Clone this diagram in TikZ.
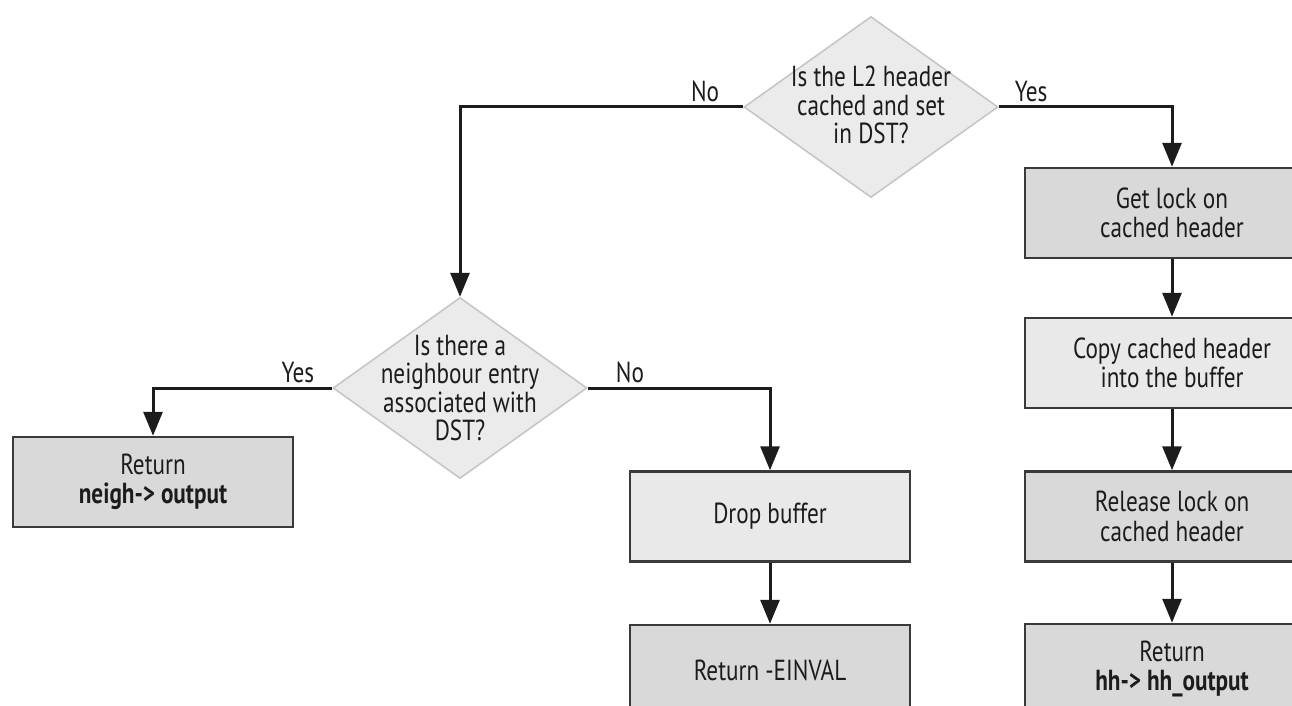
\documentclass[tikz,border=0pt]{standalone}
\usepackage{fontspec}
\setmainfont{PT Sans}[FakeStretch=0.8]
\usetikzlibrary{arrows.meta, positioning, shapes.geometric}

\definecolor{boxdark}{HTML}{D9D9D9}
\definecolor{boxlight}{HTML}{E9E9E9}
\definecolor{diafill}{HTML}{EBEBEB}
\definecolor{diaedge}{HTML}{C4C4C4}
\definecolor{boxedge}{HTML}{3A3A3A}
\definecolor{ink}{HTML}{1C1C1C}

\begin{document}
\begin{tikzpicture}[
    x=1pt, y=-1pt,
    box/.style={draw=boxedge, line width=2.5pt, minimum height=90pt,
                minimum width=280pt, align=center, text=ink,
                font=\fontsize{29}{29.5}\selectfont},
    decision/.style={diamond, draw=diaedge, fill=diafill, line width=1.5pt,
                     minimum width=254pt, minimum height=181pt, inner sep=0pt},
    qtext/.style={align=center, text=ink, font=\fontsize{29}{28.5}\selectfont},
    lbl/.style={text=ink, inner sep=2pt, font=\fontsize{29}{29}\selectfont},
    flow/.style={line width=3pt, ink, -{Triangle[length=24pt, width=19pt]}}
  ]
  \useasboundingbox (0,0) rectangle (1292,706);

  % Decisions
  \node[decision] (l2) at (871,107) {};
  \node[qtext] (l2q) at ([yshift=2pt]l2) {Is the L2 header\\cached and set\\in DST?};
  \node[decision] (neigh) at (460,388) {};
  \node[qtext] (neighq) at (neigh) {Is there a\\neighbour entry\\associated with\\DST?};

  % Left branch
  \node[box, fill=boxdark] (retneigh) at (153,482)
    {Return\\\textbf{neigh-> output}};
  \node[box, fill=boxlight] (drop) at (770,516.5) {Drop buffer};
  \node[box, fill=boxdark] (einval) at (770,670) {Return -EINVAL};

  % Right branch
  \node[box, fill=boxdark, minimum width=294pt] (getlock) at (1172,213)
    {Get lock on\\cached header};
  \node[box, fill=boxlight, minimum width=294pt] (copy) at (1172,363)
    {Copy cached header\\into the buffer};
  \node[box, fill=boxdark, minimum width=294pt] (release) at (1172,516.5)
    {Release lock on\\cached header};
  \node[box, fill=boxdark, minimum width=294pt] (rethh) at (1172,669)
    {Return\\\textbf{hh-> hh\_output}};

  % Connectors
  \draw[flow] (l2.west) -| (neigh.north);
  \draw[flow] (l2.east) -| (getlock.north);
  \draw[flow] (neigh.west) -| (retneigh.north);
  \draw[flow] (neigh.east) -| (drop.north);
  \draw[flow] (drop) -- (einval);
  \draw[flow] (getlock) -- (copy);
  \draw[flow] (copy) -- (release);
  \draw[flow] (release) -- (rethh);

  % Branch labels
  \node[lbl, above left=3pt and 22pt of l2.west] (l2no) {No};
  \node[lbl, above right=3pt and 14pt of l2.east] (l2yes) {Yes};
  \node[lbl, above left=3pt and 16pt of neigh.west] (neighyes) {Yes};
  \node[lbl, above right=3pt and 26pt of neigh.east] (neighno) {No};

\end{tikzpicture}
\end{document}
